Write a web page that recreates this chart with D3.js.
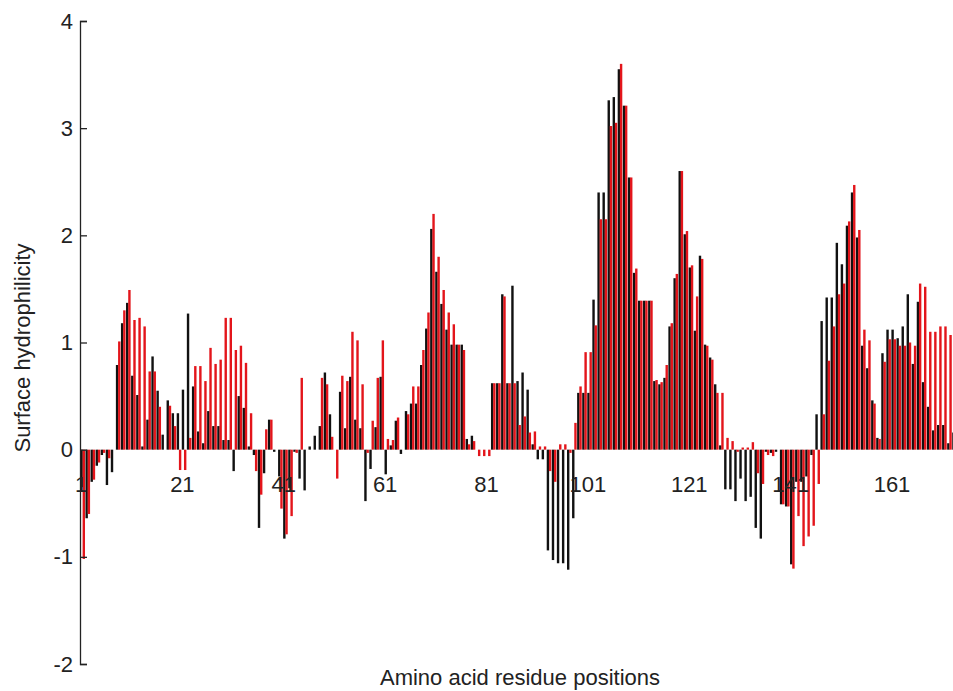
<!DOCTYPE html>
<html>
<head>
<meta charset="utf-8">
<script src="https://cdn.jsdelivr.net/npm/d3@7"></script>
<style>
  body { margin: 0; background: #fff; }
  text { font-family: "Liberation Sans", Arial, sans-serif; fill: #222; }
</style>
</head>
<body>
<script>
"use strict";

// surface hydrophilicity per residue, two sequences
const blackVals = [
  -0.35, -0.64, -0.30, -0.15, -0.05, -0.33, -0.21, 0.79, 1.18, 1.37,
  0.69, 0.51, 0.03, 0.28, 0.87, 0.55, 0.14, 0.46, 0.34, 0.34,
  0.56, 1.27, 0.59, 0.17, 0.06, 0.36, 0.22, 0.22, 0.09, 0.09,
  -0.20, 0.50, 0.39, 0.03, -0.05, -0.73, -0.22, 0.28, -0.02, -0.25,
  -0.83, -0.36, -0.02, -0.27, -0.38, 0.03, 0.13, 0.22, 0.72, 0.33,
  0, 0.54, 0.20, 0.68, 0.28, 0.20, -0.48, -0.18, 0.21, 0.68,
  -0.23, 0.04, 0.27, -0.04, 0.36, 0.43, 0.43, 0.79, 1.13, 2.06,
  1.66, 1.36, 1.12, 0.98, 0.98, 0.98, 0.10, 0.13, 0, 0,
  0, 0.62, 0.62, 1.45, 0.62, 1.53, 0.64, 0.72, 0.56, 0.05,
  -0.09, -0.09, -0.94, -1.03, -1.06, -1.06, -1.12, -0.64, 0.53, 0.53,
  0.53, 1.40, 2.40, 2.40, 3.26, 3.29, 3.55, 3.21, 2.54, 1.65,
  1.39, 1.39, 1.39, 0.64, 0.61, 0.67, 1.15, 1.60, 2.60, 2.01,
  1.70, 1.11, 1.81, 0.98, 0.86, 0.61, 0.04, -0.37, -0.37, -0.48,
  -0.27, -0.48, -0.44, -0.73, -0.83, -0.02, -0.03, -0.02, -0.51, -0.53,
  -1.07, -0.30, -0.30, -0.25, -0.05, 0.33, 1.20, 1.42, 1.42, 1.93,
  1.73, 2.09, 2.40, 1.98, 0.97, 0.76, 0.46, 0.11, 0.90, 1.12,
  1.12, 1.04, 1.15, 1.45, 0.80, 1.38, 0.63, 0.40, 0.18, 0.23,
  0.23, 0.06, 0.16, 0.72
];

const redVals = [
  -1.02, -0.60, -0.28, -0.12, -0.03, -0.08, 0, 1.01, 1.30, 1.49,
  1.21, 1.23, 1.15, 0.73, 0.73, 0.40, 0, 0.41, 0.22, -0.19,
  -0.19, 0.11, 0.78, 0.78, 0.64, 0.95, 0.80, 0.84, 1.23, 1.23,
  0.93, 0.97, 0.81, 0.34, -0.20, -0.42, 0.19, 0.28, 0, -0.55,
  -0.79, -0.62, -0.03, 0.67, 0, 0, 0, 0.67, 0.61, 0.12,
  -0.27, 0.69, 0.64, 1.10, 1.02, 0.61, -0.03, 0.27, 0.67, 1.02,
  0.10, 0.09, 0.30, 0, 0.33, 0.59, 0.59, 0.93, 1.28, 2.20,
  1.80, 1.49, 1.28, 1.17, 0.98, 0.93, 0.05, 0.08, -0.06, -0.06,
  -0.06, 0.62, 0.62, 1.43, 0.62, 0.62, 0.23, 0.31, 0.16, 0.17,
  0.03, 0.03, -0.20, -0.30, 0.05, 0.05, -0.03, 0.25, 0.59, 0.91,
  0.91, 1.16, 2.15, 2.15, 3.02, 3.05, 3.60, 3.21, 2.54, 1.69,
  1.39, 1.39, 1.39, 0.65, 0.63, 0.79, 1.18, 1.64, 2.60, 2.04,
  1.72, 1.43, 1.78, 0.97, 0.84, 0.53, 0.53, 0.11, 0.08, -0.02,
  0.02, 0.02, 0.07, -0.22, -0.32, -0.05, -0.06, 0, -0.51, -0.53,
  -1.11, -0.62, -0.90, -0.81, -0.71, -0.32, 0.33, 0.83, 1.15, 1.45,
  1.55, 2.13, 2.47, 2.05, 1.12, 1.02, 0.43, 0.10, 0.82, 1.03,
  1.03, 0.97, 0.97, 1.00, 0.97, 1.55, 1.52, 1.10, 1.10, 1.15,
  1.15, 1.07, 1.53, 0
];

const xTickLabels = [1, 21, 41, 61, 81, 101, 121, 141, 161];
const yTickLabels = [-2, -1, 0, 1, 2, 3, 4];

const width = 953,
    height = 691;

let x = d3.scaleLinear()
    .domain([1, 161])
    .range([80, 891]);

let y = d3.scaleLinear()
    .domain([-2, 4])
    .range([664, 21]);

let svg = d3.select("body")
    .append("svg")
    .attr("width", width)
    .attr("height", height);

let residues = d3.range(1, blackVals.length + 1);

function drawBars(vals, offset, colour){
    svg.append("g")
        .selectAll("rect")
        .data(residues)
        .enter()
        .append("rect")
        .attr("x", d => x(d) + offset)
        .attr("width", 2.4)
        .attr("y", d => y(Math.max(0, vals[d - 1])))
        .attr("height", d => Math.abs(y(vals[d - 1]) - y(0)))
        .attr("fill", colour);
}

drawBars(blackVals, 0.4, "#111");
drawBars(redVals, 2.6, "#e3151b");

// y axis with ticks pointing inwards, plain hyphen for negatives
let yAxis = d3.axisLeft(y)
    .tickValues(yTickLabels)
    .tickFormat(d => String(d))
    .tickSizeInner(-7)
    .tickSizeOuter(-7)
    .tickPadding(7);

let ya = svg.append("g")
    .attr("transform", "translate(80,0)")
    .call(yAxis);
ya.select(".domain").attr("stroke", "#222").attr("stroke-width", 1.3);
ya.selectAll(".tick line").attr("stroke", "#222").attr("stroke-width", 1.3);
ya.selectAll(".tick text")
    .style("font-size", "22px")
    .style("font-family", "'Liberation Sans', Arial, sans-serif")
    .attr("fill", "#222");

// residue labels just under the zero line
svg.append("g")
    .selectAll("text")
    .data(xTickLabels)
    .enter()
    .append("text")
    .attr("x", d => x(d) + 1)
    .attr("y", y(0) + 42)
    .attr("text-anchor", "middle")
    .style("font-size", "22px")
    .text(d => d);

svg.append("text")
    .attr("x", 520)
    .attr("y", 685)
    .attr("text-anchor", "middle")
    .style("font-size", "22px")
    .text("Amino acid residue positions");

svg.append("text")
    .attr("transform", "translate(30,348) rotate(-90)")
    .attr("text-anchor", "middle")
    .style("font-size", "22px")
    .text("Surface hydrophilicity");
</script>
</body>
</html>
